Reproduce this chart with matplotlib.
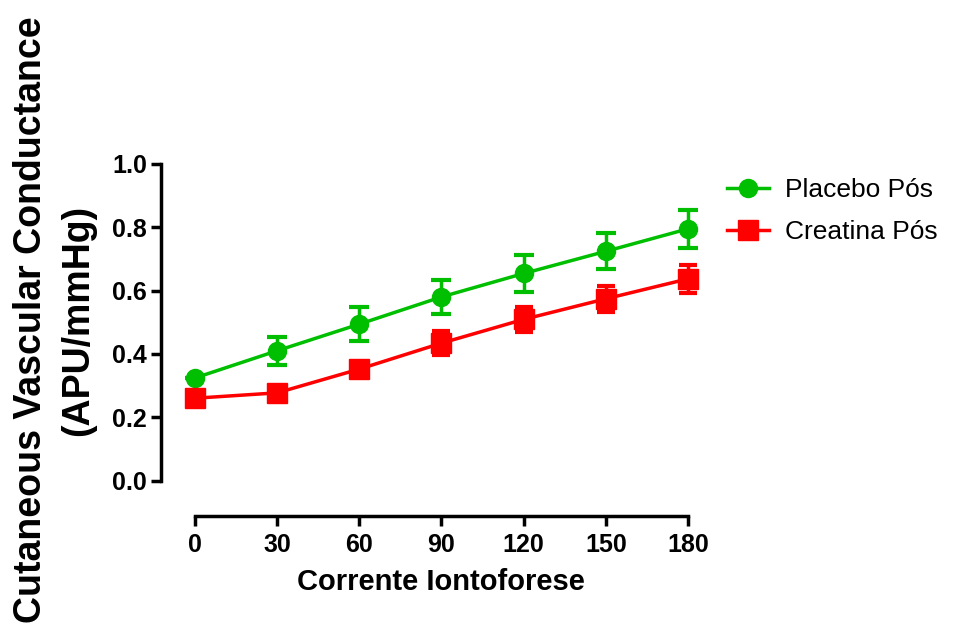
import numpy as np
import matplotlib
matplotlib.use("Agg")
import matplotlib.pyplot as plt
from matplotlib.lines import Line2D

plt.rcParams['font.family'] = ['Liberation Sans', 'DejaVu Sans']

# data
corrente = [0, 30, 60, 90, 120, 150, 180]
placebo = [0.324, 0.410, 0.494, 0.580, 0.654, 0.724, 0.795]
placebo_err = [0.0, 0.044, 0.054, 0.054, 0.057, 0.057, 0.060]
creatina = [0.260, 0.277, 0.352, 0.434, 0.509, 0.574, 0.637]
creatina_err = [0.01, 0.015, 0.02, 0.038, 0.040, 0.042, 0.045]
yticks = [0.0, 0.2, 0.4, 0.6, 0.8, 1.0]

green = '#00BF00'
red = '#FF0000'
lw = 2.5

fig = plt.figure(figsize=(9.55, 6.25), dpi=100)
ax = fig.add_axes([0.1686, 0.1744, 0.5644, 0.5856])

ax.errorbar(corrente, placebo, yerr=placebo_err, color=green, marker='o',
            markersize=13, linewidth=lw, elinewidth=lw, capsize=7,
            capthick=3, clip_on=False, zorder=3)
ax.errorbar(corrente, creatina, yerr=creatina_err, color=red, marker='s',
            markersize=14, linewidth=lw, elinewidth=lw, capsize=6.5,
            capthick=3, clip_on=False, zorder=3)

ax.set_xlim(-12.4, 184.4)
ax.set_ylim(-0.112, 1.044)
ax.set_xticks(corrente)
ax.set_yticks(yticks)
ax.set_yticklabels([f"{v:.1f}" for v in yticks])

for s in ['top', 'right']:
    ax.spines[s].set_visible(False)
ax.spines['left'].set_bounds(0, 1.0)
ax.spines['bottom'].set_bounds(0, 180)
for s in ['left', 'bottom']:
    ax.spines[s].set_linewidth(lw)

ax.tick_params(axis='both', width=lw, length=7, labelsize=18)
ax.tick_params(axis='y', pad=3)
ax.tick_params(axis='x', pad=5)
for lab in ax.get_xticklabels() + ax.get_yticklabels():
    lab.set_fontweight('bold')

ax.set_xlabel('Corrente Iontoforese', fontsize=21, fontweight='bold')
ax.xaxis.set_label_coords(0.5195, -0.142)

fig.text(0.0575, 0.488, 'Cutaneous Vascular Conductance\n(APU/mmHg)',
         rotation=90, fontsize=27, fontweight='bold', ha='center', va='center',
         multialignment='center', linespacing=1.4)

handles = [Line2D([], [], color=green, marker='o', markersize=13, linewidth=lw),
           Line2D([], [], color=red, marker='s', markersize=14, linewidth=lw)]
ax.legend(handles, ['Placebo Pós', 'Creatina Pós'], loc='upper left',
          bbox_to_anchor=(1.03, 0.952), frameon=False, fontsize=19,
          handlelength=1.6, handletextpad=0.6, labelspacing=0.68,
          borderaxespad=0)

fig.savefig('out.png', dpi=100)
